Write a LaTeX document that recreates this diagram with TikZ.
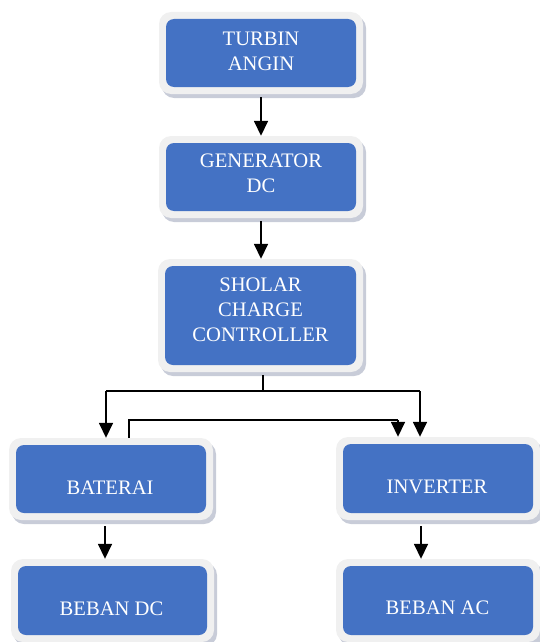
\documentclass[tikz,border=0pt]{standalone}
\usepackage{fontspec}
\setmainfont{Liberation Serif}
\usetikzlibrary{arrows.meta}
\definecolor{boxblue}{HTML}{4472C4}
\definecolor{framegray}{HTML}{F0F0F0}
\definecolor{shadowgray}{HTML}{C8CCD8}
\tikzset{
  blue box/.style={fill=boxblue, draw=none, rounded corners=8pt, inner sep=0pt},
  frame box/.style={fill=framegray, draw=none, rounded corners=12pt, inner sep=0pt},
  shadow box/.style={fill=shadowgray, draw=none, rounded corners=12pt, inner sep=0pt},
  box text/.style={text=white, align=center, inner sep=0pt,
    font=\fontsize{20.6pt}{25pt}\selectfont},
  conn/.style={line width=1.6pt, draw=black},
  arr/.style={conn, -{Triangle[width=14pt,length=15pt]}}
}
% #1 name, #2 x, #3 y, #4 width, #5 height
\newcommand{\mkbox}[5]{%
  \node[shadow box, minimum width=#4pt+14pt, minimum height=#5pt+14pt] (#1s) at (#2+3,#3+4) {};
  \node[frame box, minimum width=#4pt+14pt, minimum height=#5pt+14pt] (#1f) at (#2,#3) {};
  \node[blue box, minimum width=#4pt, minimum height=#5pt] (#1) at (#2,#3) {};
}
\begin{document}
\begin{tikzpicture}[x=1pt,y=-1pt]
\useasboundingbox (0,0) rectangle (540,642);
\mkbox{b1}{261}{53}{190}{68}
\mkbox{b2}{261}{177}{190}{68}
\mkbox{b3}{260.5}{315.5}{191}{99}
\mkbox{b4}{111}{479}{190}{68}
\mkbox{b5}{112.5}{600.5}{189}{69}
\mkbox{b6}{438}{478.5}{190}{69}
\mkbox{b7}{438}{600.5}{190}{69}
\node[box text] (t1) at (261,51) {TURBIN\\ANGIN};
\node[box text] (t2) at (261,173.5) {GENERATOR\\DC};
\node[box text] (t3) at (260.5,310) {SHOLAR\\CHARGE\\CONTROLLER};
\node[box text] (t4) at (110,488) {BATERAI};
\node[box text] (t5) at (111.5,608.5) {BEBAN DC};
\node[box text] (t6) at (437,487) {INVERTER};
\node[box text] (t7) at (437.5,608) {BEBAN AC};
% connectors
\coordinate (a1) at (261,97);
\coordinate (a2) at (261,221);
\coordinate (a3) at (263,375);
\coordinate (j3) at (263,391);
\coordinate (l4) at (106,391);
\coordinate (r6) at (420,391);
\coordinate (k1) at (129,420);
\coordinate (k2) at (398,420);
\coordinate (a4) at (105,526);
\coordinate (a6) at (421,526);
\draw[arr] (a1) -- (a1 |- b2f.north);
\draw[arr] (a2) -- (a2 |- b3f.north);
\draw[conn] (a3) -- (j3);
\draw[conn] (l4) -- (r6);
\draw[arr] (l4) -- (l4 |- b4f.north);
\draw[arr] (r6) -- (r6 |- b6f.north);
\draw[conn] (k1 |- b4f.north) -- (k1) -- (k2);
\draw[arr] (k2) -- (k2 |- b6f.north);
\draw[arr] (a4) -- (a4 |- b5f.north);
\draw[arr] (a6) -- (a6 |- b7f.north);
\end{tikzpicture}
\end{document}
